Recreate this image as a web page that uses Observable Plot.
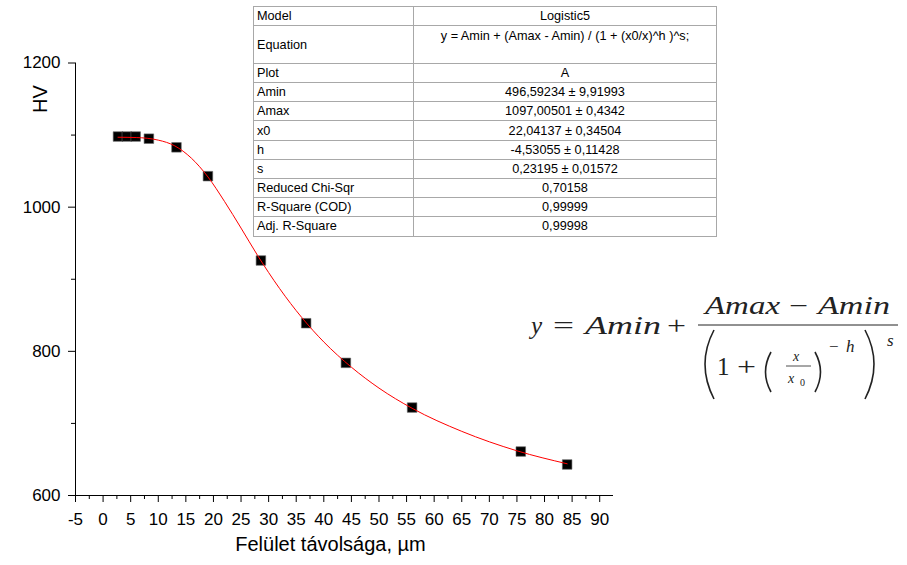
<!DOCTYPE html>
<html><head><meta charset="utf-8">
<script src="https://cdn.jsdelivr.net/npm/d3@7"></script>
<script src="https://cdn.jsdelivr.net/npm/@observablehq/plot@0.6"></script>
<style>
body{margin:0;background:#fff;}
#wrap{position:relative;width:907px;height:565px;overflow:hidden;font-family:"Liberation Sans",Arial,sans-serif;background:#fff;}
#wrap > svg{position:absolute;left:0;top:0;}
#fit{position:absolute;left:253px;top:6px;width:464px;border-collapse:collapse;border:1px solid #333;font-size:12.7px;color:#000;table-layout:fixed;background:#fff;}
#fit td{border:1px solid #a8a8a8;padding:0 3px;height:18.2px;line-height:18px;white-space:nowrap;overflow:hidden;}
#fit td.v{text-align:center;}
#fit tr.eq td{height:35.7px;}
#fit tr.eq td.v{vertical-align:top;padding-top:1px;}
</style></head><body><div id="wrap"></div>
<script>
// ---- data ----
const distance = [2.7, 4.3, 5.9, 8.3, 13.3, 19.0, 28.6, 36.8, 44.0, 56.0, 75.7, 84.1];
const hardness = [1098, 1098, 1098, 1095, 1083, 1043, 926, 839, 784, 722, 661, 643];
const fitX = [2.7, 6, 10, 13, 16, 19, 22, 25, 28, 32, 36, 40, 45, 50, 56, 65, 75, 84.1];
const fitY = [1097, 1096.6, 1093, 1085, 1068, 1042, 1008, 971, 933, 887, 847, 813, 778, 749, 721, 689, 662, 644];
const xMajor = [-5, 0, 5, 10, 15, 20, 25, 30, 35, 40, 45, 50, 55, 60, 65, 70, 75, 80, 85, 90];
const xMinor = [-2.5, 2.5, 7.5, 12.5, 17.5, 22.5, 27.5, 32.5, 37.5, 42.5, 47.5, 52.5, 57.5, 62.5, 67.5, 72.5, 77.5, 82.5, 87.5];
const yMajor = [600, 800, 1000, 1200];
const yMinor = [700, 900, 1100];
const xDomain = [-5, 92.5];
const yDomain = [600, 1200];
const xTitle = "Felület távolsága, µm";
const yTitle = "HV";
const tableLabels = ["Model", "Equation", "Plot", "Amin", "Amax", "x0", "h", "s", "Reduced Chi-Sqr", "R-Square (COD)", "Adj. R-Square"];
const tableValues = ["Logistic5", "y = Amin + (Amax - Amin) / (1 + (x0/x)^h )^s;", "A", "496,59234 ± 9,91993", "1097,00501 ± 0,4342", "22,04137 ± 0,34504", "-4,53055 ± 0,11428", "0,23195 ± 0,01572", "0,70158", "0,99999", "0,99998"];

const points = distance.map((x, i) => ({x, y: hardness[i]}));
const fit = fitX.map((x, i) => ({x, y: fitY[i]}));

const chart = Plot.plot({
  width: 907, height: 565,
  marginLeft: 75, marginRight: 294, marginTop: 62.5, marginBottom: 70,
  style: {fontFamily: "Liberation Sans, Arial, sans-serif", fontSize: "17px", color: "#000", background: "transparent", overflow: "visible"},
  x: {domain: xDomain},
  y: {domain: yDomain},
  marks: [
    Plot.axisX(xMajor, {tickSize: 7, tickPadding: 10, tickFormat: d => String(d), label: null}),
    Plot.axisX(xMinor, {tickSize: 4, tickFormat: () => "", label: null}),
    Plot.axisY(yMajor, {tickSize: 7, tickPadding: 8, tickFormat: d => String(d), label: null}),
    Plot.axisY(yMinor, {tickSize: 4, tickFormat: () => "", label: null}),
    Plot.ruleY([yDomain[0]], {stroke: "#000"}),
    Plot.ruleX([xDomain[0]], {stroke: "#000"}),
    Plot.dot(points, {x: "x", y: "y", symbol: "square", r: 5.4, fill: "#000", stroke: "#666", strokeWidth: 0.6}),
    Plot.line(fit, {x: "x", y: "y", stroke: "#ff0000", strokeWidth: 1, curve: "monotone-x"}),
    Plot.text([xTitle], {text: d => d, frameAnchor: "bottom", dy: 55, dx: -14, fontSize: 20}),
    Plot.text([yTitle], {text: d => d, frameAnchor: "top-left", dx: -43, dy: 50, rotate: -90, fontSize: 20})
  ]
});
const wrap = document.getElementById("wrap");
wrap.appendChild(chart);

// ---- fit-results table ----
const table = document.createElement("table");
table.id = "fit";
const cg = document.createElement("colgroup");
cg.innerHTML = '<col style="width:160px"><col>';
table.appendChild(cg);
const tb = document.createElement("tbody");
tableLabels.forEach((lab, i) => {
  const tr = document.createElement("tr");
  if (lab === "Equation") tr.className = "eq";
  const a = document.createElement("td"); a.textContent = lab;
  const b = document.createElement("td"); b.className = "v"; b.textContent = tableValues[i];
  tr.appendChild(a); tr.appendChild(b); tb.appendChild(tr);
});
table.appendChild(tb);
wrap.appendChild(table);

// ---- equation drawing ----
const f = d3.select(wrap).append("svg").attr("width", 907).attr("height", 565)
  .style("position", "absolute").style("left", 0).style("top", 0)
  .attr("font-family", "Liberation Serif, serif").attr("fill", "#222");
function t(str, x, y, size, italic, len) {
  const e = f.append("text").attr("x", x).attr("y", y).attr("font-size", size)
    .attr("font-style", italic ? "italic" : "normal").text(str);
  if (len) e.attr("textLength", len).attr("lengthAdjust", "spacingAndGlyphs");
  return e;
}
t("y", 531, 334, 25, true);
t("=", 553, 334, 25, false, 21);
t("Amin", 585, 334, 25, true, 76);
t("+", 667, 334, 25, false, 19);
t("Amax", 705, 314, 25, true, 75);
t("\u2212", 789, 314, 25, false, 19);
t("Amin", 818, 314, 25, true, 72);
f.append("line").attr("x1", 698).attr("x2", 898).attr("y1", 325).attr("y2", 325).attr("stroke", "#222").attr("stroke-width", 1);
const paren = (d) => f.append("path").attr("d", d).attr("fill", "none").attr("stroke", "#222").attr("stroke-width", 1.6);
paren("M714,330 Q696,364 714,399");
paren("M865,330 Q883,364 865,399");
t("1", 717, 375, 25, false);
t("+", 737, 375, 25, false, 19);
paren("M771,352 Q760,372 771,392");
paren("M815,352 Q826,372 815,392");
t("x", 793, 361, 14, true);
f.append("line").attr("x1", 786).attr("x2", 811).attr("y1", 366).attr("y2", 366).attr("stroke", "#222").attr("stroke-width", 0.8);
t("x", 788, 383, 14, true);
t("0", 800, 386, 10, false);
t("\u2212", 829, 352, 17, false);
t("h", 846, 352, 17, true);
t("s", 887, 346, 17, true);
</script></body></html>
